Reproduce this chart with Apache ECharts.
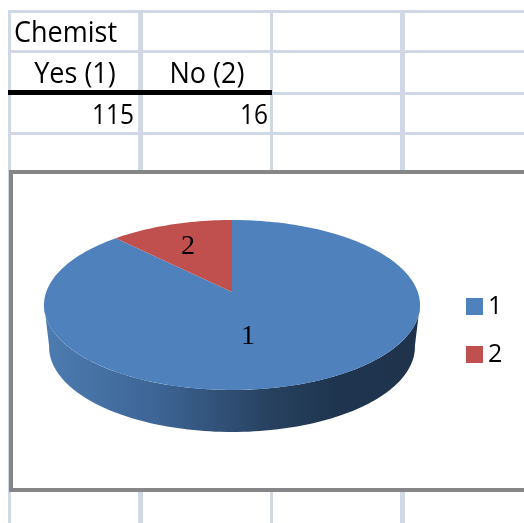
<!DOCTYPE html>
<html><head><meta charset="utf-8">
<style>html,body{margin:0;padding:0;background:#fff}#c{width:524px;height:523px}</style>
<script src="https://cdn.jsdelivr.net/npm/echarts@6/dist/echarts.min.js"></script>
</head><body><div id="c"></div>
<script>
const title = 'Chemist';
const headers = ['Yes (1)', 'No (2)'];
const categories = ['1', '2'];
const values = [115, 16];

const GRID = '#d0d7e5';
const PIE = {cx: 232, cy: 292, a: 185.8, b: 83, k: -0.153, depth: 42, shrink: 0.973};
const total = values.reduce((s, v) => s + v, 0);
function project(deg, r) {
  const t = deg * Math.PI / 180, u = r * Math.sin(t), v = -r * Math.cos(t), w = 1 + PIE.k * v;
  return [PIE.cx + PIE.a * u / w, PIE.cy + PIE.b * v / w];
}
function arc(from, to) {
  const pts = [], n = Math.max(2, Math.ceil(Math.abs(to - from) / 1.5));
  for (let i = 0; i <= n; i++) pts.push(project(from + (to - from) * i / n, 1));
  return pts;
}
function sliceRange(idx) {
  let start = 0;
  for (let i = 0; i < idx; i++) start += values[i] / total * 360;
  return [start, start + values[idx] / total * 360];
}
function sliceRender(idx) {
  return function (params, api) {
    const [s, e] = sliceRange(idx);
    const color = api.visual('color');
    const children = [];
    if (idx === 0) {
      const rim = arc(98, 262);
      const low = rim.slice().reverse().map(p => [PIE.cx + (p[0] - PIE.cx) * PIE.shrink, p[1] + PIE.depth]);
      children.push({type: 'polygon', shape: {points: rim.concat(low)}, style: {fill: {
        type: 'linear', x: 0, y: 0, x2: 1, y2: 0,
        colorStops: [
          {offset: 0, color: '#4d7cb1'}, {offset: 0.3, color: '#3d6595'},
          {offset: 0.6, color: '#27415f'}, {offset: 0.78, color: '#1f354f'}, {offset: 1, color: '#1f334c'}
        ]}}});
    }
    children.push({type: 'polygon', shape: {points: [[PIE.cx, PIE.cy]].concat(arc(s, e))}, style: {fill: color}});
    return {type: 'group', children};
  };
}
const labelPos = [[248, 337], [188, 247]];
const gridLines = [];
function line(x, y, w, h, fill, z) { gridLines.push({type: 'rect', shape: {x, y, width: w, height: h}, style: {fill}, z: z || 0, silent: true}); }
[[8, 3], [138, 5], [270, 3], [400, 5]].forEach(([x, w]) => line(x, 10, w, 513, GRID));
[10, 50, 92, 132].forEach(y => line(8, y, 516, 3, GRID));
line(8, 90, 264, 5, '#000', 1);
line(9, 170, 515, 4, '#868686', 2);
line(9, 488, 515, 4, '#868686', 2);
line(9, 170, 4, 322, '#868686', 2);
gridLines.push({type: 'rect', shape: {x: 13, y: 174, width: 511, height: 314}, style: {fill: '#fff'}, z: 1, silent: true});
const SANS = '"Open Sans", sans-serif';
function txt(text, x, y, align, size, scaleY) {
  return {type: 'text', x, y, scaleY: scaleY || 1, z: 10, style: {text, x: 0, y: 0, fontFamily: SANS, fontSize: size, fill: '#000', align, verticalAlign: 'middle'}};
}
const texts = [
  txt(title, 14, 34, 'left', 27, 1.1),
  txt(headers[0], 75, 75, 'center', 27, 1.05),
  txt(headers[1], 207, 75, 'center', 27, 1.05),
  txt(String(values[0]), 134, 116, 'right', 24.5, 1.15),
  txt(String(values[1]), 268, 116, 'right', 24.5, 1.15)
];
categories.forEach((c, i) => {
  const t = txt(c, labelPos[i][0], labelPos[i][1], 'center', 28);
  t.style.fontFamily = '"Liberation Serif", serif';
  t.z = 100; t.zlevel = 1;
  texts.push(t);
});
const chart = echarts.init(document.getElementById('c'), null, {renderer: 'canvas'});
chart.setOption({
  animation: false,
  backgroundColor: '#fff',
  color: ['#4f81bd', '#c0504d'],
  graphic: {elements: gridLines.concat(texts)},
  legend: {
    orient: 'vertical', left: 461, top: 289, itemWidth: 17, itemHeight: 17, itemGap: 23,
    data: categories, icon: 'rect', selectedMode: false,
    textStyle: {fontFamily: SANS, fontSize: 25, color: '#000'}
  },
  series: categories.map((c, i) => ({
    type: 'custom', name: c, coordinateSystem: 'none', silent: true, z: 5,
    data: [values[i]], renderItem: sliceRender(i)
  }))
});
</script></body></html>
